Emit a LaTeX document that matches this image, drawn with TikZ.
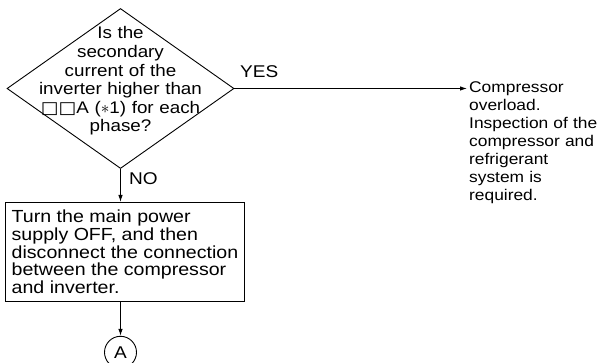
\documentclass[tikz,border=0pt]{standalone}
\usepackage{fontspec}
\setmainfont{Liberation Sans}[FakeStretch=1.12]
\newfontfamily\squarefont{DejaVu Sans}[FakeStretch=1.12]
\usetikzlibrary{arrows.meta, positioning, shapes.geometric}

\begin{document}
\begin{tikzpicture}[
    x=1pt, y=-1pt,
    decision/.style={
        diamond,
        draw,
        line width=0.9pt,
        minimum width=227pt,
        minimum height=160pt,
        inner sep=0pt
    },
    decisiontext/.style={
        text width=200pt,
        align=center,
        inner sep=0pt,
        font=\fontsize{16.8}{18.6}\selectfont
    },
    box/.style={
        rectangle,
        draw,
        line width=0.9pt,
        minimum width=238pt,
        minimum height=99pt,
        inner xsep=6pt,
        align=left,
        font=\fontsize{17.5}{17.6}\selectfont
    },
    note/.style={
        text width=140pt,
        align=left,
        inner sep=0pt,
        font=\fontsize{15.5}{18}\selectfont
    },
    answer/.style={inner sep=0pt, font=\fontsize{17}{17}\selectfont},
    connector/.style={
        circle,
        draw,
        line width=0.9pt,
        minimum size=32pt,
        inner sep=0pt,
        font=\fontsize{17}{17}\selectfont
    },
    arrow/.style={-{Latex[length=7pt, width=4.5pt]}, line width=0.9pt}
]

\useasboundingbox (0,0) rectangle (605,363);

% decision on the secondary current
\node[decision] (check) at (120.5,88.5) {};
\node[decisiontext, anchor=base] (checktext) at (120.5,39) {
    Is the\\
    secondary\\
    current of the\\
    inverter higher than\\
    {\squarefont □□}A ($\ast$1) for each\\
    phase?
};

\node[box, below=33pt of check, xshift=4.5pt] (poweroff) {
    Turn the main power\\
    supply OFF, and then\\
    disconnect the connection\\
    between the compressor\\
    and inverter.
};

\node[connector, below=34pt of poweroff.south -| check.south] (linkA) {A};

\node[note, anchor=base west] (overload) at (469,93) {
    Compressor\\
    overload.\\
    Inspection of the\\
    compressor and\\
    refrigerant\\
    system is\\
    required.
};

\node[answer, anchor=base west] (yes) at ([xshift=5.5pt, yshift=10.5pt]check.east) {YES};
\node[answer, anchor=base west] (no) at ([xshift=8.5pt, yshift=-15.5pt]check.south) {NO};

\draw[arrow, shorten >=2pt] (check.east) -- (check.east -| overload.west);
\draw[arrow] (check.south) -- (check.south |- poweroff.north);
\draw[arrow] (poweroff.south -| linkA.north) -- (linkA.north);

\end{tikzpicture}
\end{document}
